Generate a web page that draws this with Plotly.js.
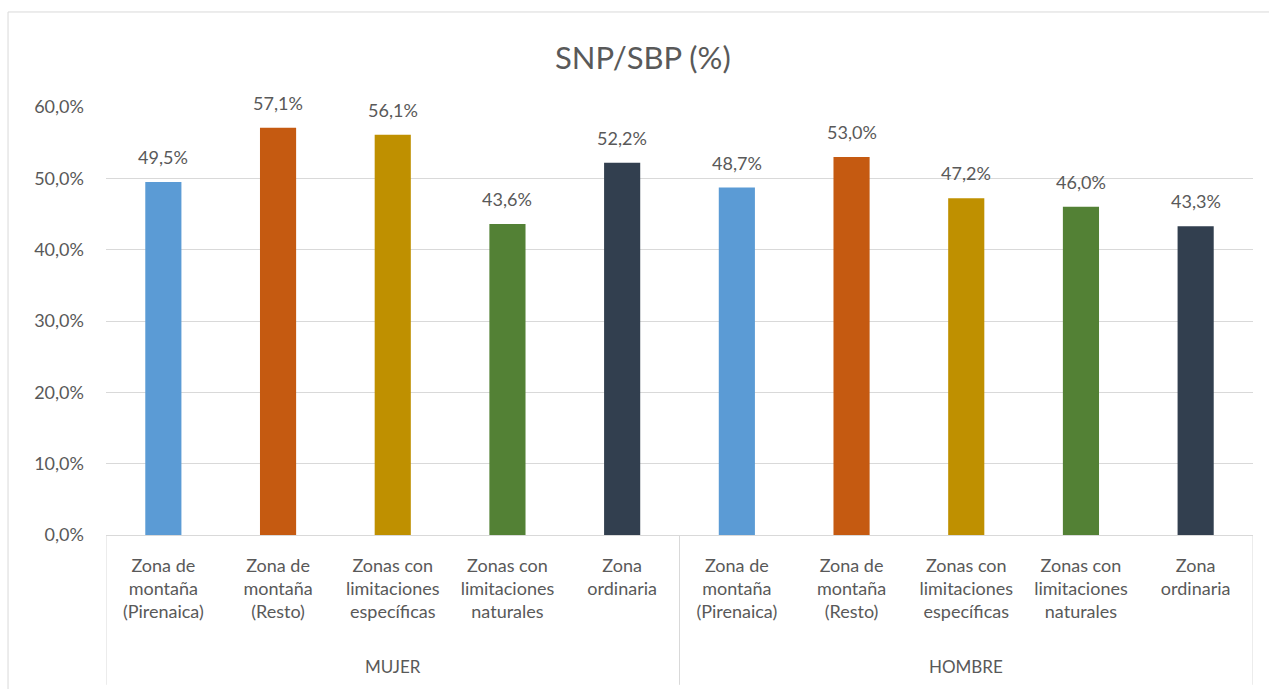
<!DOCTYPE html>
<html>
<head>
<meta charset="utf-8">
<script src="https://cdn.plot.ly/plotly-3.0.1.min.js"></script>
<style>html,body{margin:0;padding:0;background:#fff;}#chart{width:1269px;height:689px;}</style>
</head>
<body>
<div id="chart"></div>
<script>
const groups = ["MUJER", "HOMBRE"];
const zones = [
  "Zona de<br>montaña<br>(Pirenaica)",
  "Zona de<br>montaña<br>(Resto)",
  "Zonas con<br>limitaciones<br>específicas",
  "Zonas con<br>limitaciones<br>naturales",
  "Zona<br>ordinaria"
];
const mujerValues = [0.495, 0.571, 0.561, 0.436, 0.522];
const hombreValues = [0.487, 0.530, 0.472, 0.460, 0.433];
const zoneColors = ["#5B9BD5", "#C55A11", "#BF9000", "#538135", "#323F4F"];
const yTickValues = [0, 0.1, 0.2, 0.3, 0.4, 0.5, 0.6];

const xs = [], yv = [], cols = [], tickText = [];
[mujerValues, hombreValues].forEach((vals, gi) => {
  vals.forEach((v, zi) => {
    xs.push(gi * zones.length + zi);
    yv.push(v);
    cols.push(zoneColors[zi]);
    tickText.push(zones[zi]);
  });
});

const font = "Lato, 'Open Sans', sans-serif";
const grey = "#595959";
const lineCol = "#D9D9D9";

const trace = {
  type: "bar",
  x: xs,
  y: yv,
  marker: {color: cols},
  hoverinfo: "skip"
};

const fmt = v => (v * 100).toFixed(1).replace(".", ",") + "%";
const annotations = xs.map((x, i) => ({
  x: x, y: yv[i], xref: "x", yref: "y",
  text: fmt(yv[i]), showarrow: false,
  yanchor: "middle", yshift: 25,
  font: {family: font, size: 18, color: grey}
}));
const nZ = zones.length;
groups.forEach((g, gi) => {
  annotations.push({
    x: gi * nZ + (nZ - 1) / 2, xref: "x", y: -0.308, yref: "paper",
    text: g, showarrow: false, yanchor: "middle",
    font: {family: font, size: 17, color: grey}
  });
});
annotations.push({
  text: "SNP/SBP (%)", xref: "paper", yref: "paper", x: 0.468, y: 1.117,
  xanchor: "center", yanchor: "middle", showarrow: false,
  font: {family: font, size: 31, color: grey}
});

const shapes = [
  {type: "rect", xref: "paper", yref: "paper", x0: -0.0854, x1: 1.2, y0: -0.6, y1: 1.222,
   line: {color: lineCol, width: 1}, fillcolor: "rgba(0,0,0,0)", layer: "below"}
];
[-0.5, nZ - 0.5, 2 * nZ - 0.5].forEach(xb => {
  shapes.push({type: "line", xref: "x", yref: "paper", x0: xb, x1: xb, y0: 0, y1: -0.35,
               line: {color: lineCol, width: 1}});
});

const layout = {
  width: 1269, height: 689,
  margin: {l: 106, r: 16, t: 107, b: 154},
  paper_bgcolor: "#fff", plot_bgcolor: "#fff",
  separators: ",.",
  bargap: 0.685,
  showlegend: false,
  xaxis: {
    range: [-0.5, 2 * nZ - 0.5],
    tickvals: xs, ticktext: tickText,
    showline: true, linecolor: lineCol, linewidth: 1,
    showgrid: false, zeroline: false, ticks: "",
    ticklabelstandoff: 14,
    tickfont: {family: font, size: 18, color: grey}
  },
  yaxis: {
    range: [0, 0.6],
    tickvals: yTickValues,
    tickformat: ".1%",
    showgrid: true, gridcolor: lineCol, gridwidth: 1,
    zeroline: false, showline: false,
    ticks: "", ticklabelstandoff: 21,
    tickfont: {family: font, size: 18, color: grey}
  },
  annotations: annotations,
  shapes: shapes
};

Plotly.newPlot("chart", [trace], layout, {displayModeBar: false, staticPlot: true});
</script>
</body>
</html>
